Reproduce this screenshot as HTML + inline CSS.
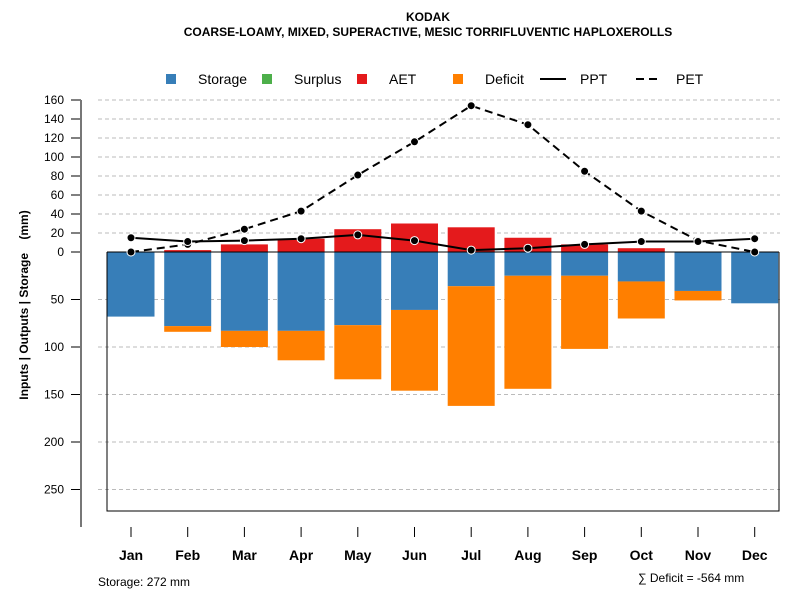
<!DOCTYPE html>
<html><head><meta charset="utf-8"><style>
body{margin:0;background:#fff;}
svg{font-family:"Liberation Sans",sans-serif;}
</style></head><body>
<svg id="chart" width="800" height="600" xmlns="http://www.w3.org/2000/svg">
<text x="428" y="21" text-anchor="middle" font-size="12" font-weight="bold">KODAK</text>
<text x="428" y="36" text-anchor="middle" font-size="12" font-weight="bold">COARSE-LOAMY, MIXED, SUPERACTIVE, MESIC TORRIFLUVENTIC HAPLOXEROLLS</text>
<g font-size="14">
<g><rect x="166" y="74" width="10" height="10" fill="#377eb8"/><text x="198" y="84">Storage</text></g>
<g><rect x="262" y="74" width="10" height="10" fill="#4daf4a"/><text x="294" y="84">Surplus</text></g>
<g><rect x="357" y="74" width="10" height="10" fill="#e41a1c"/><text x="389" y="84">AET</text></g>
<g><rect x="453" y="74" width="10" height="10" fill="#ff7f00"/><text x="485" y="84">Deficit</text></g>
<g><line x1="540" y1="79" x2="566" y2="79" stroke="#000" stroke-width="2"/><text x="580" y="84">PPT</text></g>
<g><line x1="636" y1="79" x2="662" y2="79" stroke="#000" stroke-width="2" stroke-dasharray="8,5"/><text x="676" y="84">PET</text></g>
</g>
<g id="grid"></g><g id="bars"></g><g id="frame"></g><g id="lines"></g><g id="axes"></g>
<text transform="translate(28,305) rotate(-90)" text-anchor="middle" font-size="12" font-weight="bold" style="white-space:pre">Inputs | Outputs | Storage    (mm)</text>
<text x="98" y="586" font-size="12">Storage: 272 mm</text>
<text x="638" y="582" font-size="12">∑ Deficit = -564 mm</text>
</svg>
<script>
const months=["Jan","Feb","Mar","Apr","May","Jun","Jul","Aug","Sep","Oct","Nov","Dec"];
const storage=[68,78,83,83,77,61,36,25,25,31,41,54];
const deficit=[0,6,17,31,57,85,126,119,77,39,10,0];
const surplus=[0,0,0,0,0,0,0,0,0,0,0,0];
const aet=[0,2,8,14,24,30,26,15,8,4,0,0];
const ppt=[15,11,12,14,18,12,2,4,8,11,11,14];
const pet=[0,8,24,43,81,116,154,134,85,43,12,0];
const upTicks=[0,20,40,60,80,100,120,140,160];
const downTicks=[50,100,150,200,250];
const NS="http://www.w3.org/2000/svg";
const x0=131, dx=56.7, bw=47, y0=252, k=0.95;
const X=i=>x0+i*dx;
const Y=v=>y0-v*k;
function mk(tag,attrs,parent){const e=document.createElementNS(NS,tag);for(const a in attrs)e.setAttribute(a,attrs[a]);document.getElementById(parent).appendChild(e);return e;}
upTicks.forEach(t=>{
 if(t>0){const g=mk('line',{x1:98,x2:780,y1:Y(t),y2:Y(t),stroke:'#bbb','stroke-dasharray':'4,3'},'grid');
 
 }
 mk('line',{x1:71,x2:81,y1:Y(t),y2:Y(t),stroke:'#000'},'axes');
 const l=mk('text',{x:64,y:Y(t)+4,'text-anchor':'end','font-size':12},'axes');l.textContent=t;
 
 
});
downTicks.forEach(t=>{
 const g=mk('line',{x1:98,x2:780,y1:Y(-t),y2:Y(-t),stroke:'#bbb','stroke-dasharray':'4,3'},'grid');
 
 
 mk('line',{x1:71,x2:81,y1:Y(-t),y2:Y(-t),stroke:'#000'},'axes');
 const l=mk('text',{x:64,y:Y(-t)+4,'text-anchor':'end','font-size':12},'axes');l.textContent=t;
 
 
});
mk('line',{x1:81,x2:81,y1:Y(160),y2:527,stroke:'#777','stroke-width':2},'axes');
months.forEach((m,i)=>{
 const xl=X(i)-bw/2;
 const s=mk('rect',{x:xl,y:y0,width:bw,height:storage[i]*k,fill:'#377eb8'},'bars');
 
 
 const d=mk('rect',{x:xl,y:Y(-storage[i]),width:bw,height:deficit[i]*k,fill:'#ff7f00'},'bars');
 
 
 const a=mk('rect',{x:xl,y:Y(aet[i]),width:bw,height:aet[i]*k,fill:'#e41a1c'},'bars');
 
 
 const su=mk('rect',{x:xl,y:Y(aet[i]+surplus[i]),width:bw,height:surplus[i]*k,fill:'#4daf4a'},'bars');
 
 
 mk('line',{x1:X(i),x2:X(i),y1:527,y2:537,stroke:'#000'},'axes');
 const l=mk('text',{x:X(i),y:560,'text-anchor':'middle','font-size':14,'font-weight':'bold'},'axes');l.textContent=m;
 
 
});
mk('path',{d:'M107,252 V511 H779 V252',fill:'none',stroke:'#000'},'frame');
mk('line',{x1:107,x2:779,y1:y0,y2:y0,stroke:'#000'},'frame');
function series(vals,dash,name){
 const p=mk('polyline',{points:vals.map((v,i)=>X(i)+','+Y(v)).join(' '),fill:'none',stroke:'#000','stroke-width':2,'stroke-dasharray':dash},'lines');
 
 
 vals.forEach((v,i)=>{const c=mk('circle',{cx:X(i),cy:Y(v),r:4,fill:'#000',stroke:'#fff','stroke-width':1},'lines');
 
 });
}
series(pet,'8,5','pet');
series(ppt,'none','ppt');
</script>
</body></html>
